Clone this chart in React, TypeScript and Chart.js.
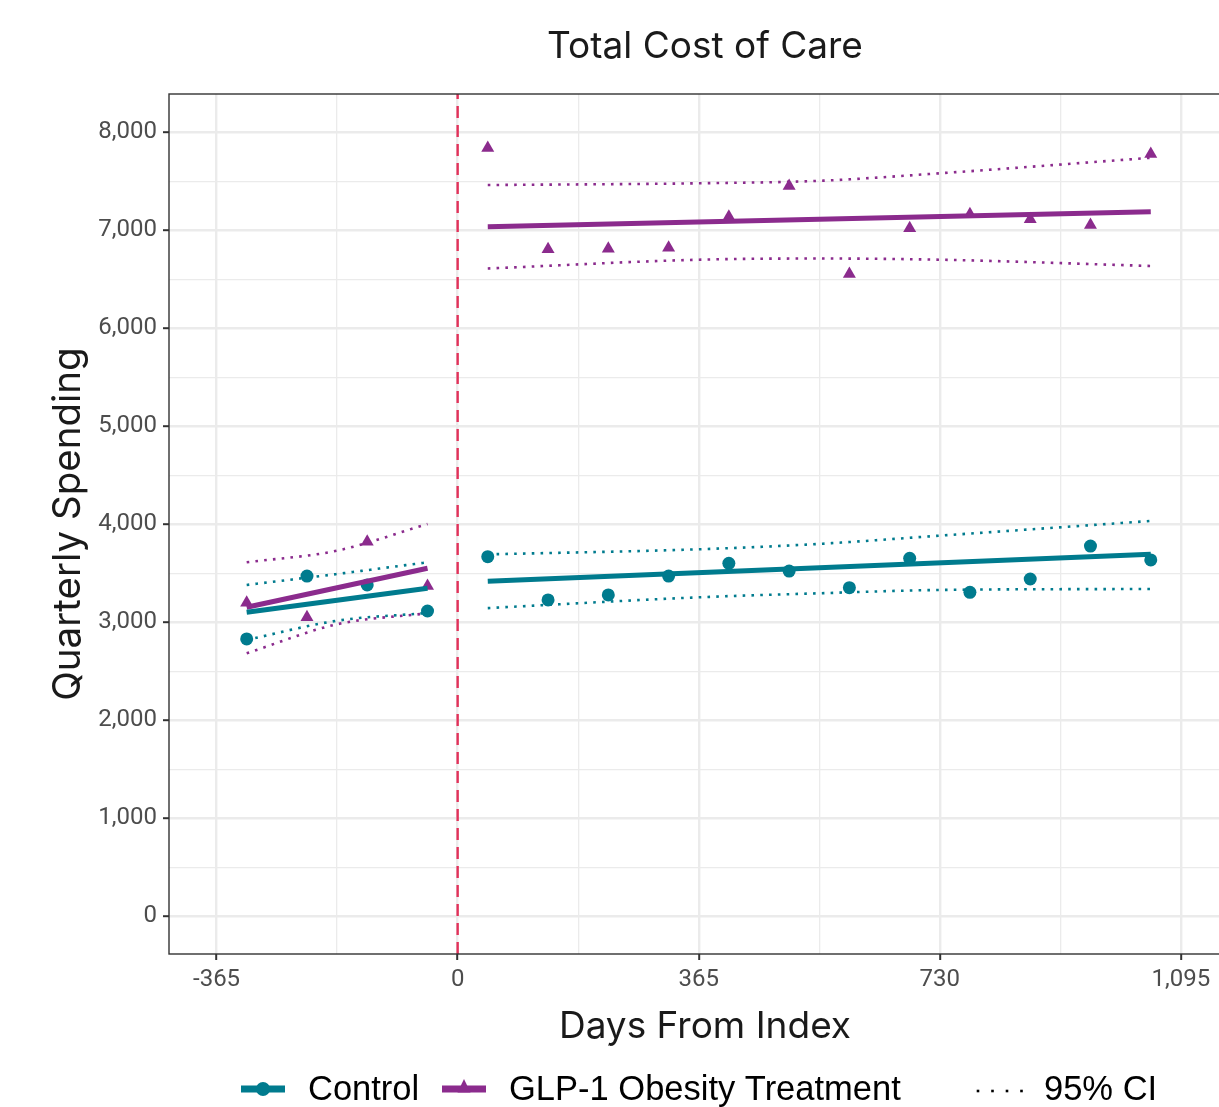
import React, { useEffect, useRef } from "react";
import { Chart, registerables } from "chart.js";

Chart.register(...registerables);

const chartTitle = "Total Cost of Care";
const xAxisTitle = "Days From Index";
const yAxisTitle = "Quarterly Spending";
const seriesNames = ["Control", "GLP-1 Obesity Treatment"];
const ciName = "95% CI";

// quarter midpoints (days from index)
const preDays = [-319.4, -228.1, -136.9, -45.6];
const postDays = [45.6, 136.9, 228.1, 319.4, 410.6, 501.9, 593.1, 684.4, 775.6, 866.9, 958.1, 1049.4];

const controlPre = [2830, 3472, 3381, 3115];
const controlPost = [3670, 3228, 3279, 3472, 3602, 3523, 3353, 3653, 3306, 3442, 3778, 3636];
const glpPre = [3200, 3051, 3823, 3370];
const glpPost = [7840, 6806, 6812, 6822, 7139, 7452, 6554, 7020, 7163, 7112, 7054, 7778];

// fitted lines
const fitPreDays = [-319.4, -45.6];
const fitPostDays = [45.6, 1049.4];
const controlFitPre = [3102, 3347];
const glpFitPre = [3153, 3551];
const controlFitPost = [3418, 3694];
const glpFitPost = [7037, 7190];

// 95% confidence bands
const ciPreDays = [-319.4, -182.5, -45.6];
const controlCiPreUpper = [3381, 3493, 3612];
const controlCiPreLower = [2820, 3016, 3095];
const glpCiPreUpper = [3612, 3731, 4003];
const glpCiPreLower = [2684, 2980, 3092];
const ciPostDays = [45.6, 365, 547.5, 730, 1049.4];
const controlCiPostUpper = [3693, 3745, 3800, 3884, 4034];
const controlCiPostLower = [3145, 3255, 3296, 3330, 3340];
const glpCiPostUpper = [7462, 7480, 7505, 7582, 7740];
const glpCiPostLower = [6610, 6700, 6712, 6700, 6636];

const indexDay = 0;

const xMajorTicks = [-365, 0, 365, 730, 1095];
const xMinorTicks = [-182.5, 182.5, 547.5, 912.5];
const yMajorTicks = [0, 1000, 2000, 3000, 4000, 5000, 6000, 7000, 8000];
const yMinorTicks = [500, 1500, 2500, 3500, 4500, 5500, 6500, 7500];
const xRange = [-437, 1186];
const yRange = [-385, 8391];

const TEAL = "#007b8e";
const PURPLE = "#8b2b8d";
const RED = "#e2315a";
const NARROW = 'Roboto, "Liberation Sans Narrow", sans-serif';
const SANS = '"Liberation Sans", Arial, sans-serif';
const GEO = "Inter, Roboto, sans-serif";

const pts = (xs: number[], ys: number[]) => xs.map((x, i) => ({ x, y: ys[i] }));

const fmt = (v: number) => v.toLocaleString("en-US");

const fitLine = (label: string, xs: number[], ys: number[], color: string) => ({
  label,
  data: pts(xs, ys),
  showLine: true,
  borderColor: color,
  borderWidth: 5,
  pointRadius: 0,
  order: 1,
});

const ciLine = (label: string, xs: number[], ys: number[], color: string) => ({
  label,
  data: pts(xs, ys),
  showLine: true,
  borderColor: color,
  borderWidth: 2.6,
  borderDash: [2.6, 6.2],
  borderCapStyle: "butt",
  cubicInterpolationMode: "monotone",
  pointRadius: 0,
  order: 5,
});

const overlayPlugin = {
  id: "overlay",
  afterDraw(chart: any) {
    const { ctx, chartArea: a } = chart;
    ctx.save();
    // panel border
    ctx.strokeStyle = "#333333";
    ctx.lineWidth = 1.4;
    ctx.strokeRect(a.left, a.top, a.right - a.left, a.bottom - a.top);

    // legend
    const ly = 1089;
    ctx.lineCap = "butt";
    ctx.lineWidth = 7;
    ctx.strokeStyle = TEAL;
    ctx.beginPath();
    ctx.moveTo(241, ly);
    ctx.lineTo(285, ly);
    ctx.stroke();
    ctx.fillStyle = TEAL;
    ctx.beginPath();
    ctx.arc(263, ly, 7, 0, Math.PI * 2);
    ctx.fill();

    ctx.strokeStyle = PURPLE;
    ctx.beginPath();
    ctx.moveTo(442, ly);
    ctx.lineTo(486, ly);
    ctx.stroke();
    ctx.fillStyle = PURPLE;
    ctx.beginPath();
    ctx.moveTo(464, ly - 10);
    ctx.lineTo(470.5, ly + 3.5);
    ctx.lineTo(457.5, ly + 3.5);
    ctx.closePath();
    ctx.fill();

    ctx.fillStyle = "#000000";
    for (let i = 0; i < 4; i++) {
      ctx.fillRect(978 + i * 14.5 - 1.3, ly + 2 - 1.3, 2.6, 2.6);
    }

    ctx.font = `34.5px ${SANS}`;
    ctx.textBaseline = "alphabetic";
    ctx.textAlign = "left";
    ctx.fillStyle = "#000000";
    ctx.fillText(seriesNames[0], 308, 1100);
    ctx.fillText(seriesNames[1], 509, 1100);
    ctx.fillText(ciName, 1044, 1100);
    ctx.restore();
  },
};

export default function App() {
  const ref = useRef<HTMLCanvasElement | null>(null);

  useEffect(() => {
    document.body.style.margin = "0";
    document.body.style.overflow = "hidden";
    const canvas = ref.current;
    if (!canvas) return;

    const datasets: any[] = [
      fitLine("Control fit pre", fitPreDays, controlFitPre, TEAL),
      fitLine("Control fit post", fitPostDays, controlFitPost, TEAL),
      fitLine("GLP fit pre", fitPreDays, glpFitPre, PURPLE),
      fitLine("GLP fit post", fitPostDays, glpFitPost, PURPLE),
      {
        label: seriesNames[0],
        data: [...pts(preDays, controlPre), ...pts(postDays, controlPost)],
        showLine: false,
        pointStyle: "circle",
        pointRadius: 6.5,
        pointBorderWidth: 0,
        pointBackgroundColor: TEAL,
        order: 3,
      },
      {
        label: seriesNames[1],
        data: [...pts(preDays, glpPre), ...pts(postDays, glpPost)],
        showLine: false,
        pointStyle: "triangle",
        pointRadius: 7.5,
        pointBorderWidth: 0,
        pointBackgroundColor: PURPLE,
        order: 3,
      },
      ciLine("Control CI pre upper", ciPreDays, controlCiPreUpper, TEAL),
      ciLine("Control CI pre lower", ciPreDays, controlCiPreLower, TEAL),
      ciLine("GLP CI pre upper", ciPreDays, glpCiPreUpper, PURPLE),
      ciLine("GLP CI pre lower", ciPreDays, glpCiPreLower, PURPLE),
      ciLine("Control CI post upper", ciPostDays, controlCiPostUpper, TEAL),
      ciLine("Control CI post lower", ciPostDays, controlCiPostLower, TEAL),
      ciLine("GLP CI post upper", ciPostDays, glpCiPostUpper, PURPLE),
      ciLine("GLP CI post lower", ciPostDays, glpCiPostLower, PURPLE),
      {
        label: "Index",
        data: [
          { x: indexDay, y: yRange[0] },
          { x: indexDay, y: yRange[1] },
        ],
        showLine: true,
        borderColor: RED,
        borderWidth: 2.4,
        borderDash: [12, 7],
        pointRadius: 0,
        order: 10,
      },
    ];

    const xAll = [...xMajorTicks, ...xMinorTicks].sort((p, q) => p - q);
    const yAll = [...yMajorTicks, ...yMinorTicks].sort((p, q) => p - q);

    const chart = new Chart(canvas, {
      type: "scatter",
      data: { datasets },
      plugins: [overlayPlugin],
      options: {
        animation: false,
        responsive: false,
        devicePixelRatio: 1,
        events: [],
        layout: { padding: { left: 0, right: 19, top: 0, bottom: 53 } },
        plugins: {
          legend: { display: false },
          tooltip: { enabled: false },
          title: {
            display: true,
            text: chartTitle,
            fullSize: false,
            color: "#1a1a1a",
            font: { family: GEO, size: 37, weight: "normal" },
            padding: { top: 25, bottom: 24.6 },
          },
        },
        scales: {
          x: {
            type: "linear",
            min: xRange[0],
            max: xRange[1],
            afterBuildTicks: (s: any) => {
              s.ticks = xAll.map((v) => ({ value: v }));
            },
            afterFit: (s: any) => {
              s.height = 100;
            },
            ticks: {
              autoSkip: false,
              maxRotation: 0,
              minRotation: 0,
              padding: 6,
              color: "#4d4d4d",
              font: { family: NARROW, size: 24 },
              callback: (v: any) => (xMajorTicks.includes(Number(v)) ? fmt(Number(v)) : ""),
            },
            grid: {
              color: "#ebebeb",
              lineWidth: (c: any) => (c.tick && xMajorTicks.includes(c.tick.value) ? 2.4 : 1.3),
              tickLength: 6,
              tickWidth: 2,
              tickColor: (c: any) =>
                c.tick && xMajorTicks.includes(c.tick.value) ? "#333333" : "rgba(0,0,0,0)",
            },
            border: { display: false },
            title: {
              display: true,
              text: xAxisTitle,
              color: "#1a1a1a",
              font: { family: GEO, size: 37 },
              padding: { top: 0, bottom: 4.5 },
            },
          },
          y: {
            type: "linear",
            min: yRange[0],
            max: yRange[1],
            afterBuildTicks: (s: any) => {
              s.ticks = yAll.map((v) => ({ value: v }));
            },
            afterFit: (s: any) => {
              s.width = 169;
            },
            ticks: {
              autoSkip: false,
              padding: 6,
              color: "#4d4d4d",
              font: { family: NARROW, size: 24 },
              callback: (v: any) => (yMajorTicks.includes(Number(v)) ? fmt(Number(v)) : ""),
            },
            grid: {
              color: "#ebebeb",
              lineWidth: (c: any) => (c.tick && yMajorTicks.includes(c.tick.value) ? 2.4 : 1.3),
              tickLength: 6,
              tickWidth: 2,
              tickColor: (c: any) =>
                c.tick && yMajorTicks.includes(c.tick.value) ? "#333333" : "rgba(0,0,0,0)",
            },
            border: { display: false },
            title: {
              display: true,
              text: yAxisTitle,
              color: "#1a1a1a",
              font: { family: GEO, size: 38.5 },
              padding: { top: 45, bottom: 0 },
            },
          },
        },
      } as any,
    });

    return () => chart.destroy();
  }, []);

  return (
    <div style={{ width: 1219, height: 1107, overflow: "hidden", position: "relative" }}>
      <canvas ref={ref} width={1260} height={1107} style={{ display: "block" }} />
    </div>
  );
}
